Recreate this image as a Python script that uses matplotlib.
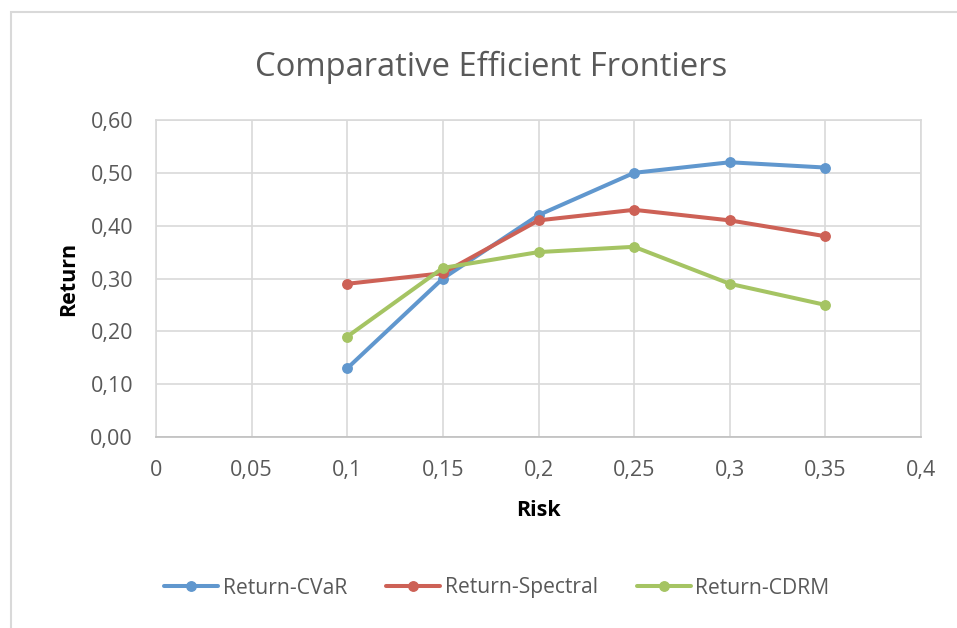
import matplotlib
matplotlib.use("Agg")
import matplotlib.pyplot as plt
from matplotlib.patches import Rectangle

# ── data ──────────────────────────────────────────────────────────────────────
risk = [0.10, 0.15, 0.20, 0.25, 0.30, 0.35]
ret_cvar = [0.13, 0.30, 0.42, 0.50, 0.52, 0.51]
ret_spectral = [0.29, 0.31, 0.41, 0.43, 0.41, 0.38]
ret_cdrm = [0.19, 0.32, 0.35, 0.36, 0.29, 0.25]

x_ticks = [0, 0.05, 0.10, 0.15, 0.20, 0.25, 0.30, 0.35, 0.40]
x_tick_labels = ["0", "0,05", "0,1", "0,15", "0,2", "0,25", "0,3", "0,35", "0,4"]
y_ticks = [0.0, 0.1, 0.2, 0.3, 0.4, 0.5, 0.6]
y_tick_labels = ["0,00", "0,10", "0,20", "0,30", "0,40", "0,50", "0,60"]

SERIES = [
    ("Return-CVaR", ret_cvar, "#6097CE"),
    ("Return-Spectral", ret_spectral, "#CD6156"),
    ("Return-CDRM", ret_cdrm, "#A5C463"),
]

TEXT = "#595959"
GRID = "#D9D9D9"

plt.rcParams["font.family"] = ["Open Sans", "DejaVu Sans"]

fig = plt.figure(figsize=(9.57, 6.28), dpi=100)
fig.patch.set_facecolor("white")

# outer chart border (cut off at right/bottom like the screenshot)
fig.patches.append(Rectangle((11 / 957, -0.05), 1.2, 1 - 12 / 628 + 0.05,
                             transform=fig.transFigure, fill=False,
                             edgecolor="#D9D9D9", lw=1.5, clip_on=False))

ax = fig.add_axes([156 / 957, 1 - 437 / 628, (921 - 156) / 957, (437 - 120) / 628])

for label, vals, col in SERIES:
    ax.plot(risk, vals, color=col, lw=2.9, marker="o", markersize=6.8,
            label=label, solid_capstyle="round", zorder=3)

ax.set_xlim(0, 0.4)
ax.set_ylim(0, 0.6)
ax.set_xticks(x_ticks)
ax.set_xticklabels(x_tick_labels)
ax.set_yticks(y_ticks)
ax.set_yticklabels(y_tick_labels)
ax.tick_params(length=0, labelsize=15.5, colors=TEXT)
ax.tick_params(axis="y", pad=16.5)
ax.tick_params(axis="x", pad=16.5)

ax.grid(True, color=GRID, lw=1.2)
ax.set_axisbelow(True)
for side in ["top", "right", "left"]:
    ax.spines[side].set_color(GRID)
    ax.spines[side].set_linewidth(1.2)
ax.spines["bottom"].set_color("#BFBFBF")
ax.spines["bottom"].set_linewidth(1.2)

ax.set_xlabel("Risk", fontsize=15.5, fontweight="bold", color="black", labelpad=14)
ax.set_ylabel("Return", fontsize=15.5, fontweight="bold", color="black", labelpad=8)

fig.text(491 / 957, 1 - 76 / 628, "Comparative Efficient Frontiers",
         ha="center", va="baseline", fontsize=23.6, color=TEXT)

leg = fig.legend(loc="center", bbox_to_anchor=(497 / 957, 1 - 588 / 628),
                 ncol=3, frameon=False, fontsize=15.2, handlelength=2.55,
                 columnspacing=1.85, handletextpad=0.22)
for t in leg.get_texts():
    t.set_color(TEXT)

fig.savefig("out.png", dpi=100)
